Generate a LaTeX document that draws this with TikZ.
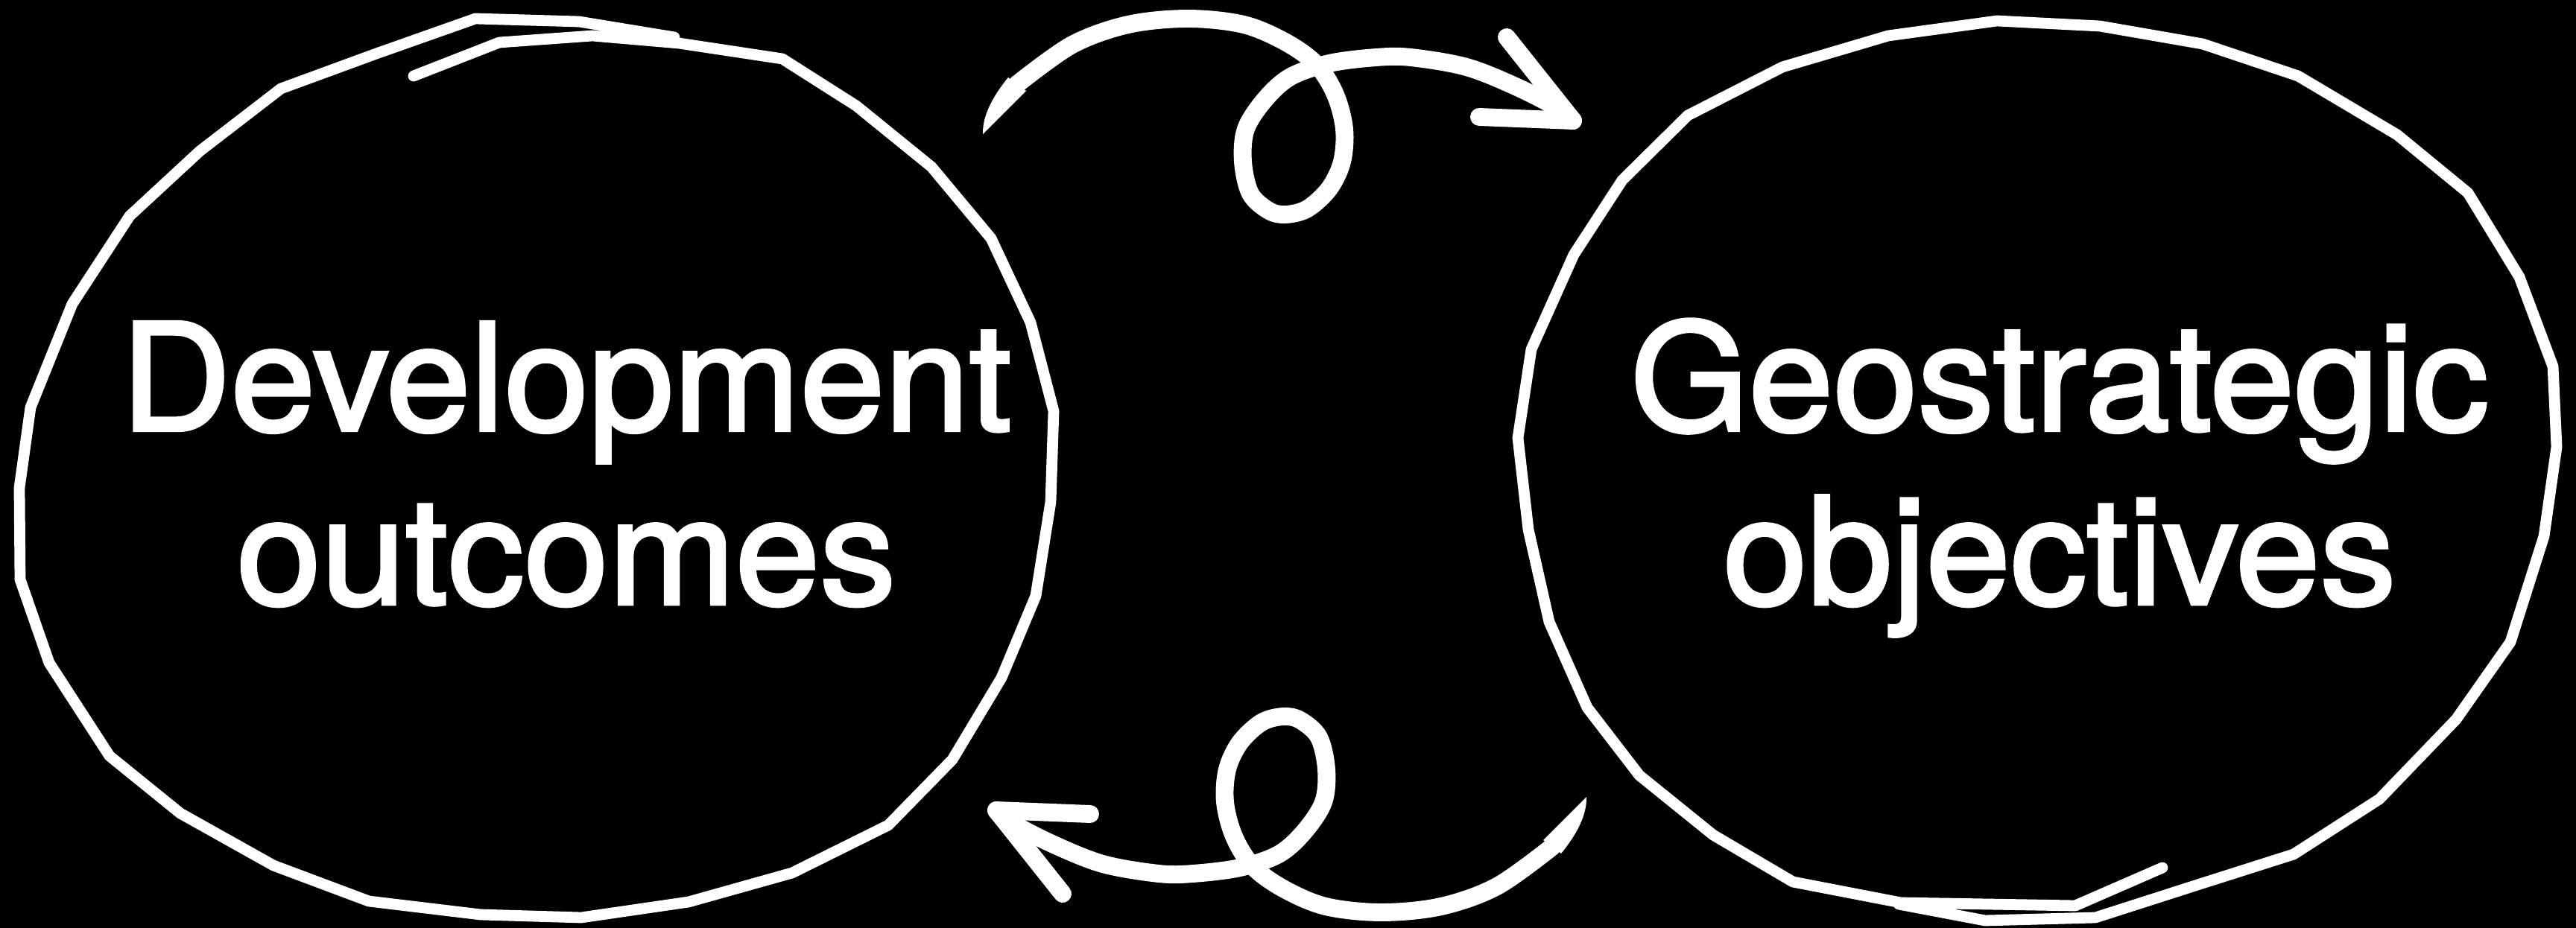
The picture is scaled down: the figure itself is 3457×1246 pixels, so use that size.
\documentclass[tikz,border=0pt]{standalone}
\usepackage{fontspec}
\setmainfont{TeX Gyre Heros}
\newfontfamily\labelfont[FakeBold=2.2,FakeStretch=1.02]{TeX Gyre Heros}
\newcommand\DrawLoopArrow[1]{%
  \coordinate (#1s) at (1319,180);
  \coordinate (#1t) at (2111,162);
  \coordinate (#1b1) at (2022,50);
  \coordinate (#1b2) at (1985,157);
  \fill[white] (#1s) .. controls (1318,150) and (1340,120) .. (1353,104) -- (1377,122) -- cycle;
  \draw[arrowline] plot[smooth,tension=0.55] coordinates {(1365,113) (1439,60) (1514,33) (1594,25) (1669,33) (1726,57) (1767,87) (1792,127) (1804,173) (1801,217) (1784,253) (1755,280) (1726,288) (1703,283) (1678,260) (1668,217) (1672,173) (1698,133) (1732,103) (1784,85) (1847,77) (1893,77) (1968,90) (2036,117) (2094,147) (#1t)};
  \draw[arrowline] (#1b1) -- (#1t) -- (#1b2);
}
\begin{document}
\begin{tikzpicture}[x=0.01cm,y=-0.01cm,
  outline/.style={draw=white,line width=4.2pt,line join=round,line cap=round},
  arrowline/.style={draw=white,line width=6.8pt,line join=round,line cap=round},
  circtext/.style={text=white,font=\labelfont\fontsize{56.9}{66.3}\selectfont,inner sep=0pt,anchor=base}]
\fill[black] (0,0) rectangle (3457,1246);
% left circle
\draw[outline] (555,102) -- (670,57) -- (795,48) -- (911,58) -- (1050,79) -- (1149,142) -- (1250,224) -- (1330,320) -- (1383,433) -- (1414,552) -- (1410,674) -- (1390,800) -- (1344,910) -- (1278,1020) -- (1192,1108) -- (1063,1172) -- (924,1211) -- (780,1232) -- (645,1228) -- (495,1210) -- (367,1162) -- (242,1092) -- (147,1015) -- (66,890) -- (27,778) -- (26,655) -- (41,547) -- (97,408) -- (174,290) -- (268,203) -- (377,119) -- (505,72) -- (638,25) -- (777,29) -- (905,50);
% right circle
\draw[outline] (2902,1165) -- (2785,1216) -- (2551,1212) -- (2406,1184) -- (2299,1121) -- (2200,1041) -- (2130,950) -- (2079,835) -- (2051,711) -- (2037,588) -- (2055,469) -- (2112,342) -- (2177,242) -- (2265,155) -- (2392,90) -- (2534,48) -- (2680,28) -- (2818,35) -- (2956,59) -- (3084,102) -- (3217,181) -- (3312,259) -- (3381,372) -- (3426,492) -- (3431,600) -- (3414,720) -- (3369,862) -- (3296,966) -- (3193,1073) -- (3078,1147) -- (2946,1189) -- (2812,1232) -- (2664,1236) -- (2548,1214);
% labels
\node[circtext] (dev) at (760,578) {\begin{tabular}[t]{@{}c@{}}Development\\outcomes\end{tabular}};
\node[circtext] (geo) at (2764,578) {\begin{tabular}[t]{@{}c@{}}Geostrategic\\objectives\end{tabular}};
% arrows
\DrawLoopArrow{ta}
\begin{scope}[rotate around={180:(1724,625)}]
\DrawLoopArrow{ba}
\end{scope}
\end{tikzpicture}
\end{document}
